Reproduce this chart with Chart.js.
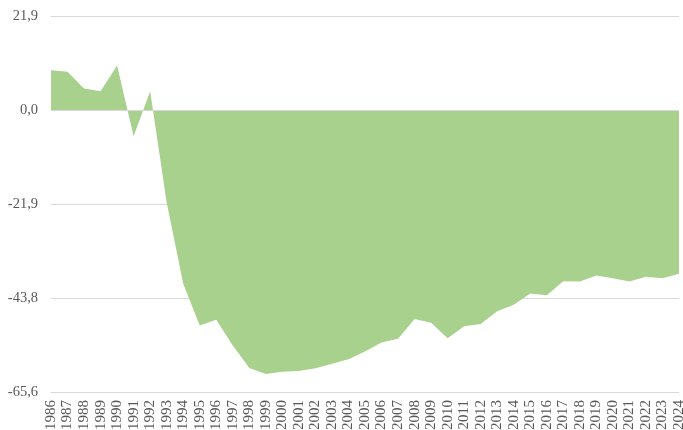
<!DOCTYPE html>
<html>
<head>
<meta charset="utf-8">
<script src="https://cdn.jsdelivr.net/npm/chart.js@4"></script>
<style>
  html, body { margin: 0; padding: 0; background: #fff; }
  #wrap { width: 683px; height: 430px; }
</style>
</head>
<body>
<div id="wrap"><canvas id="ch"></canvas></div>
<script>
// Datos
const years = ['1986','1987','1988','1989','1990','1991','1992','1993','1994','1995',
  '1996','1997','1998','1999','2000','2001','2002','2003','2004','2005','2006','2007',
  '2008','2009','2010','2011','2012','2013','2014','2015','2016','2017','2018','2019',
  '2020','2021','2022','2023','2024'];
const values = [9.3, 8.9, 5.0, 4.4, 10.4, -6.1, 4.4, -21.5, -40.4, -50.1,
  -48.8, -54.8, -60.0, -61.4, -60.9, -60.7, -60.1, -59.0, -58.0, -56.2, -54.1, -53.2,
  -48.6, -49.5, -53.1, -50.3, -49.8, -46.8, -45.3, -42.7, -43.1, -39.8, -39.9, -38.5,
  -39.1, -39.9, -38.8, -39.1, -38.1];
const yTicks = [21.9, 0.0, -21.9, -43.8, -65.6];

const TXT = '#595959';
const SERIF = '"Liberation Serif", "Times New Roman", serif';

// linea del cero por encima del area
const zeroLine = {
  id: 'zeroLine',
  afterDatasetsDraw(chart) {
    const { ctx, chartArea, scales } = chart;
    const y = Math.round(scales.y.getPixelForValue(0)) + 0.5;
    ctx.save();
    ctx.strokeStyle = '#d9d9d9';
    ctx.lineWidth = 1;
    ctx.beginPath();
    ctx.moveTo(chartArea.left, y);
    ctx.lineTo(chartArea.right, y);
    ctx.stroke();
    ctx.restore();
  }
};

new Chart(document.getElementById('ch'), {
  type: 'line',
  data: {
    labels: years,
    datasets: [{
      data: values,
      fill: 'origin',
      backgroundColor: '#a9d18e',
      borderWidth: 0,
      pointRadius: 0,
      tension: 0
    }]
  },
  options: {
    responsive: true,
    maintainAspectRatio: false,
    animation: false,
    layout: { padding: { top: 16, right: 4, left: 4, bottom: 0 } },
    plugins: { legend: { display: false }, tooltip: { enabled: false } },
    scales: {
      x: {
        offset: false,
        border: { display: false },
        grid: { display: false, drawTicks: false },
        ticks: {
          autoSkip: false, minRotation: 90, maxRotation: 90,
          color: TXT, font: { family: SERIF, size: 15 }, padding: 8
        },
        afterFit(s) { s.height = 38; s.paddingLeft = 0; s.paddingRight = 0; }
      },
      y: {
        min: -65.6, max: 21.9,
        border: { display: false },
        grid: { color: '#d9d9d9', drawTicks: false },
        afterBuildTicks(s) { s.ticks = yTicks.map(v => ({ value: v })); },
        ticks: {
          color: TXT, font: { family: SERIF, size: 14.5 }, padding: 13,
          callback: v => v.toFixed(1).replace('.', ',')
        },
        afterFit(s) { s.width = 47; s.paddingTop = 0; s.paddingBottom = 0; }
      }
    }
  },
  plugins: [zeroLine]
});
</script>
</body>
</html>
